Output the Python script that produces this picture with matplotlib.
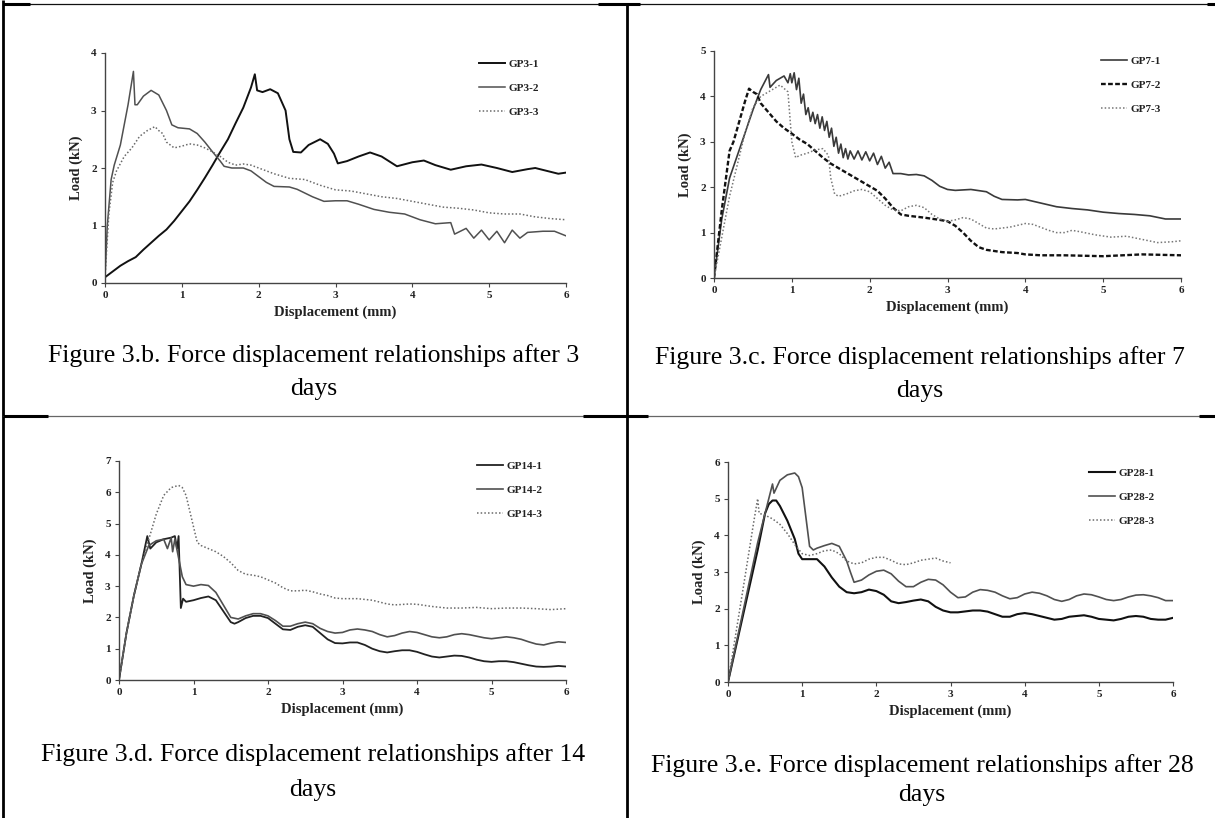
import matplotlib.pyplot as plt
from matplotlib.lines import Line2D

W, H = 1215, 818
SERIF = ['Liberation Serif', 'DejaVu Serif']

# ---- GP3 (3 days) ----
gp3_1_x = [0, 0.1, 0.2, 0.3, 0.4, 0.5, 0.6, 0.7, 0.8, 0.9, 1.0, 1.1, 1.2, 1.3, 1.4, 1.5, 1.6,
           1.7, 1.8, 1.9, 1.95, 1.98, 2.05, 2.15, 2.25, 2.35, 2.4, 2.45, 2.55, 2.65, 2.8, 2.9,
           2.98, 3.03, 3.15, 3.3, 3.45, 3.6, 3.8, 4.0, 4.15, 4.3, 4.5, 4.7, 4.9, 5.1, 5.3, 5.5,
           5.6, 5.75, 5.9, 6.0]
gp3_1_y = [0.1, 0.2, 0.3, 0.38, 0.45, 0.58, 0.7, 0.82, 0.93, 1.08, 1.25, 1.42, 1.62, 1.83, 2.05,
           2.28, 2.5, 2.78, 3.05, 3.4, 3.63, 3.35, 3.32, 3.37, 3.3, 3.0, 2.5, 2.28, 2.27, 2.4, 2.5,
           2.42, 2.25, 2.08, 2.12, 2.2, 2.27, 2.2, 2.03, 2.1, 2.13, 2.05, 1.97, 2.03, 2.06, 2.0,
           1.93, 1.98, 2.0, 1.95, 1.9, 1.92]
gp3_2_x = [0, 0.03, 0.08, 0.12, 0.2, 0.3, 0.37, 0.39, 0.42, 0.5, 0.6, 0.7, 0.8, 0.87, 0.95, 1.1,
           1.2, 1.3, 1.4, 1.5, 1.55, 1.65, 1.8, 1.9, 2.0, 2.1, 2.2, 2.4, 2.5, 2.7, 2.85, 3.0, 3.15,
           3.3, 3.5, 3.7, 3.9, 4.1, 4.3, 4.5, 4.55, 4.7, 4.8, 4.9, 5.0, 5.1, 5.2, 5.3, 5.4, 5.5,
           5.7, 5.85, 6.0]
gp3_2_y = [0.1, 1.0, 1.8, 2.05, 2.4, 3.1, 3.68, 3.1, 3.1, 3.25, 3.35, 3.27, 3.0, 2.75, 2.7, 2.68,
           2.6, 2.45, 2.28, 2.12, 2.03, 2.0, 2.0, 1.95, 1.85, 1.75, 1.68, 1.67, 1.63, 1.5, 1.42,
           1.43, 1.43, 1.37, 1.28, 1.23, 1.2, 1.1, 1.03, 1.05, 0.85, 0.95, 0.78, 0.92, 0.75, 0.9,
           0.7, 0.92, 0.78, 0.88, 0.9, 0.9, 0.82]
gp3_3_x = [0, 0.05, 0.1, 0.15, 0.25, 0.35, 0.45, 0.55, 0.65, 0.7, 0.75, 0.8, 0.9, 1.0, 1.1, 1.2,
           1.3, 1.4, 1.5, 1.6, 1.7, 1.8, 1.9, 2.0, 2.2, 2.4, 2.6, 2.8, 3.0, 3.2, 3.4, 3.6, 3.8,
           4.0, 4.2, 4.4, 4.6, 4.8, 5.0, 5.2, 5.4, 5.6, 5.8, 6.0]
gp3_3_y = [0.1, 1.2, 1.75, 1.95, 2.2, 2.35, 2.55, 2.65, 2.72, 2.65, 2.6, 2.45, 2.35, 2.38, 2.42,
           2.4, 2.35, 2.28, 2.2, 2.1, 2.05, 2.07, 2.05, 2.0, 1.9, 1.82, 1.8, 1.7, 1.62, 1.6, 1.55,
           1.5, 1.47, 1.42, 1.37, 1.32, 1.3, 1.27, 1.22, 1.2, 1.2, 1.15, 1.12, 1.1]

# ---- GP7 (7 days) ----
gp7_1_x = [0, 0.1, 0.2, 0.3, 0.4, 0.5, 0.6, 0.7, 0.72, 0.8, 0.9, 0.95, 0.98, 1.0, 1.03, 1.06,
           1.09, 1.12, 1.15, 1.18, 1.21, 1.24, 1.27, 1.3, 1.33, 1.36, 1.39, 1.42, 1.45, 1.48,
           1.51, 1.54, 1.57, 1.6, 1.63, 1.66, 1.69, 1.72, 1.75, 1.8, 1.85, 1.9, 1.95, 2.0, 2.05,
           2.1, 2.15, 2.2, 2.25, 2.3, 2.4, 2.5, 2.6, 2.7, 2.8, 2.9, 3.0, 3.1, 3.3, 3.5, 3.6,
           3.7, 3.9, 4.0, 4.2, 4.4, 4.6, 4.8, 5.0, 5.2, 5.4, 5.6, 5.8, 6.0]
gp7_1_y = [0, 1.3, 2.2, 2.7, 3.2, 3.7, 4.15, 4.48, 4.2, 4.35, 4.45, 4.3, 4.5, 4.3, 4.52, 4.15,
           4.4, 3.85, 4.05, 3.6, 3.75, 3.45, 3.65, 3.4, 3.6, 3.3, 3.55, 3.25, 3.45, 3.1, 3.3,
           2.9, 3.1, 2.75, 2.95, 2.65, 2.85, 2.62, 2.8, 2.62, 2.8, 2.6, 2.78, 2.58, 2.75, 2.5,
           2.68, 2.42, 2.55, 2.3, 2.3, 2.27, 2.28, 2.25, 2.15, 2.02, 1.95, 1.93, 1.95, 1.9, 1.8,
           1.73, 1.72, 1.73, 1.65, 1.57, 1.53, 1.5, 1.45, 1.42, 1.4, 1.37, 1.3, 1.3]
gp7_2_x = [0, 0.1, 0.2, 0.25, 0.3, 0.4, 0.45, 0.5, 0.55, 0.6, 0.7, 0.8, 0.9, 1.0, 1.1, 1.2, 1.3,
           1.4, 1.5, 1.6, 1.7, 1.8, 1.9, 2.0, 2.1, 2.2, 2.3, 2.4, 2.5, 2.7, 2.9, 3.0, 3.1, 3.2,
           3.3, 3.4, 3.5, 3.7, 3.9, 4.0, 4.2, 4.5, 5.0, 5.5, 6.0]
gp7_2_y = [0, 1.5, 2.8, 3.0, 3.3, 3.9, 4.17, 4.1, 4.05, 3.85, 3.65, 3.45, 3.3, 3.18, 3.05, 2.95,
           2.8, 2.65, 2.52, 2.42, 2.32, 2.22, 2.12, 2.02, 1.92, 1.75, 1.55, 1.4, 1.37, 1.33, 1.28,
           1.25, 1.15, 1.0, 0.82, 0.68, 0.62, 0.57, 0.55, 0.52, 0.5, 0.5, 0.48, 0.52, 0.5]
gp7_3_x = [0, 0.1, 0.2, 0.3, 0.4, 0.5, 0.6, 0.65, 0.7, 0.8, 0.85, 0.95, 1.0, 1.05, 1.1, 1.2, 1.3,
           1.4, 1.47, 1.5, 1.55, 1.6, 1.7, 1.8, 1.9, 2.0, 2.1, 2.2, 2.3, 2.4, 2.5, 2.6, 2.7, 2.8,
           2.9, 3.0, 3.1, 3.2, 3.3, 3.4, 3.5, 3.6, 3.8, 4.0, 4.1, 4.3, 4.4, 4.5, 4.6, 4.7, 4.9,
           5.1, 5.3, 5.5, 5.7, 5.9, 6.0]
gp7_3_y = [0, 0.9, 1.8, 2.5, 3.2, 3.75, 4.0, 4.05, 4.1, 4.2, 4.25, 4.1, 3.0, 2.65, 2.7, 2.75,
           2.82, 2.85, 2.7, 2.2, 1.85, 1.8, 1.85, 1.92, 1.95, 1.9, 1.75, 1.6, 1.5, 1.48, 1.57,
           1.6, 1.55, 1.4, 1.3, 1.25, 1.28, 1.33, 1.3, 1.2, 1.1, 1.08, 1.12, 1.2, 1.18, 1.05,
           1.0, 1.0, 1.05, 1.02, 0.95, 0.9, 0.92, 0.85, 0.78, 0.8, 0.82]

# ---- GP14 (14 days) ----
gp14_1_x = [0, 0.1, 0.2, 0.3, 0.38, 0.42, 0.5, 0.6, 0.7, 0.75, 0.78, 0.8, 0.83, 0.86, 0.9, 1.0,
            1.1, 1.2, 1.3, 1.4, 1.5, 1.55, 1.6, 1.7, 1.8, 1.9, 2.0, 2.1, 2.2, 2.3, 2.4, 2.5,
            2.6, 2.7, 2.8, 2.9, 3.0, 3.1, 3.2, 3.3, 3.4, 3.5, 3.6, 3.7, 3.8, 3.9, 4.0, 4.1,
            4.2, 4.3, 4.4, 4.5, 4.6, 4.7, 4.8, 4.9, 5.0, 5.1, 5.2, 5.3, 5.4, 5.5, 5.6, 5.7,
            5.8, 5.9, 6.0]
gp14_1_y = [0, 1.5, 2.7, 3.7, 4.6, 4.2, 4.4, 4.5, 4.55, 4.6, 4.2, 4.6, 2.3, 2.6, 2.5, 2.55, 2.62,
            2.67, 2.55, 2.2, 1.85, 1.8, 1.85, 1.98, 2.05, 2.05, 1.98, 1.8, 1.62, 1.6, 1.7, 1.75,
            1.7, 1.5, 1.3, 1.18, 1.17, 1.2, 1.2, 1.12, 1.0, 0.92, 0.88, 0.92, 0.95, 0.95, 0.9,
            0.82, 0.75, 0.72, 0.75, 0.78, 0.77, 0.72, 0.65, 0.6, 0.58, 0.6, 0.6, 0.57, 0.52,
            0.47, 0.43, 0.42, 0.43, 0.45, 0.43]
gp14_2_x = [0, 0.1, 0.2, 0.3, 0.4, 0.5, 0.6, 0.65, 0.7, 0.72, 0.75, 0.8, 0.85, 0.9, 1.0, 1.1,
            1.2, 1.3, 1.4, 1.5, 1.6, 1.7, 1.8, 1.9, 2.0, 2.1, 2.2, 2.3, 2.4, 2.5, 2.6, 2.7, 2.8,
            2.9, 3.0, 3.1, 3.2, 3.3, 3.4, 3.5, 3.6, 3.7, 3.8, 3.9, 4.0, 4.1, 4.2, 4.3, 4.4, 4.5,
            4.6, 4.7, 4.8, 4.9, 5.0, 5.1, 5.2, 5.3, 5.4, 5.5, 5.6, 5.7, 5.8, 5.9, 6.0]
gp14_2_y = [0, 1.5, 2.7, 3.7, 4.3, 4.45, 4.5, 4.2, 4.55, 4.1, 4.5, 3.9, 3.3, 3.05, 3.0, 3.05,
            3.02, 2.8, 2.4, 2.0, 1.95, 2.05, 2.12, 2.12, 2.05, 1.9, 1.72, 1.72, 1.8, 1.85, 1.8,
            1.65, 1.55, 1.5, 1.52, 1.6, 1.63, 1.6, 1.55, 1.45, 1.38, 1.42, 1.5, 1.55, 1.52,
            1.45, 1.38, 1.35, 1.38, 1.45, 1.48, 1.45, 1.4, 1.35, 1.32, 1.35, 1.38, 1.35, 1.3,
            1.22, 1.15, 1.12, 1.18, 1.22, 1.2]
gp14_3_x = [0, 0.1, 0.2, 0.3, 0.4, 0.5, 0.6, 0.7, 0.8, 0.85, 0.9, 0.95, 1.0, 1.05, 1.1, 1.2, 1.3,
            1.4, 1.5, 1.6, 1.7, 1.8, 1.9, 2.0, 2.1, 2.2, 2.3, 2.4, 2.5, 2.6, 2.7, 2.8, 2.9, 3.0,
            3.2, 3.4, 3.6, 3.7, 3.9, 4.0, 4.2, 4.4, 4.6, 4.8, 5.0, 5.2, 5.4, 5.6, 5.8, 6.0]
gp14_3_y = [0, 1.5, 2.7, 3.7, 4.5, 5.3, 5.9, 6.15, 6.22, 6.15, 5.9, 5.4, 4.9, 4.4, 4.3, 4.2, 4.1,
            3.95, 3.75, 3.5, 3.38, 3.35, 3.3, 3.2, 3.1, 2.95, 2.85, 2.85, 2.87, 2.82, 2.75, 2.7,
            2.62, 2.6, 2.6, 2.55, 2.43, 2.4, 2.43, 2.42, 2.35, 2.3, 2.3, 2.32, 2.28, 2.3, 2.3,
            2.28, 2.25, 2.28]

# ---- GP28 (28 days) ----
gp28_1_x = [0, 0.2, 0.4, 0.5, 0.55, 0.6, 0.65, 0.7, 0.8, 0.9, 0.95, 1.0, 1.1, 1.2, 1.3, 1.4, 1.5,
            1.6, 1.7, 1.8, 1.9, 2.0, 2.1, 2.2, 2.3, 2.4, 2.5, 2.6, 2.7, 2.8, 2.9, 3.0, 3.1, 3.3,
            3.4, 3.5, 3.6, 3.7, 3.8, 3.9, 4.0, 4.1, 4.2, 4.3, 4.4, 4.5, 4.6, 4.7, 4.8, 4.9, 5.0,
            5.1, 5.2, 5.3, 5.4, 5.5, 5.6, 5.7, 5.8, 5.9, 6.0]
gp28_1_y = [0, 1.8, 3.6, 4.6, 4.85, 4.95, 4.95, 4.8, 4.4, 3.9, 3.5, 3.35, 3.35, 3.35, 3.15, 2.85,
            2.6, 2.45, 2.42, 2.45, 2.52, 2.48, 2.38, 2.2, 2.15, 2.18, 2.22, 2.25, 2.2, 2.05, 1.95,
            1.9, 1.9, 1.95, 1.95, 1.92, 1.85, 1.78, 1.78, 1.85, 1.88, 1.85, 1.8, 1.75, 1.7, 1.72,
            1.78, 1.8, 1.82, 1.78, 1.72, 1.7, 1.68, 1.72, 1.78, 1.8, 1.78, 1.72, 1.7, 1.7, 1.75]
gp28_2_x = [0, 0.2, 0.4, 0.55, 0.6, 0.62, 0.7, 0.8, 0.9, 0.95, 1.0, 1.05, 1.1, 1.15, 1.2, 1.3,
            1.4, 1.5, 1.6, 1.65, 1.7, 1.8, 1.9, 2.0, 2.1, 2.2, 2.3, 2.4, 2.5, 2.6, 2.7, 2.8, 2.9,
            3.0, 3.1, 3.2, 3.3, 3.4, 3.5, 3.6, 3.7, 3.8, 3.9, 4.0, 4.1, 4.2, 4.3, 4.4, 4.5, 4.6,
            4.7, 4.8, 4.9, 5.0, 5.1, 5.2, 5.3, 5.4, 5.5, 5.6, 5.7, 5.8, 5.9, 6.0]
gp28_2_y = [0, 1.9, 3.8, 5.0, 5.4, 5.15, 5.5, 5.65, 5.7, 5.6, 5.3, 4.5, 3.7, 3.6, 3.65, 3.72,
            3.78, 3.7, 3.3, 3.0, 2.72, 2.78, 2.92, 3.02, 3.05, 2.95, 2.75, 2.6, 2.6, 2.72, 2.8,
            2.78, 2.65, 2.45, 2.3, 2.32, 2.45, 2.52, 2.5, 2.45, 2.35, 2.27, 2.3, 2.4, 2.45, 2.42,
            2.35, 2.25, 2.2, 2.25, 2.35, 2.4, 2.38, 2.32, 2.25, 2.22, 2.25, 2.32, 2.37, 2.38,
            2.35, 2.3, 2.22, 2.22]
gp28_3_x = [0, 0.2, 0.35, 0.4, 0.42, 0.5, 0.6, 0.7, 0.8, 0.9, 1.0, 1.1, 1.2, 1.3, 1.4, 1.5, 1.6,
            1.7, 1.8, 1.9, 2.0, 2.1, 2.2, 2.3, 2.4, 2.5, 2.6, 2.7, 2.8, 2.9, 3.0]
gp28_3_y = [0, 2.5, 4.4, 5.0, 4.6, 4.55, 4.45, 4.3, 4.05, 3.75, 3.5, 3.45, 3.5, 3.58, 3.6, 3.5,
            3.3, 3.22, 3.25, 3.35, 3.4, 3.4, 3.32, 3.22, 3.2, 3.25, 3.32, 3.35, 3.38, 3.3, 3.25]

DOT = (0, (1, 1.4))

panels = [
    dict(box=(105, 53, 566, 283), ymax=4, legend=(479, 59),
         caption=('Figure 3.b. Force displacement relationships after 3', 'days'), cap=(314, 356, 389),
         series=[('GP3-1', gp3_1_x, gp3_1_y, '#111111', 1.4, '-'),
                 ('GP3-2', gp3_2_x, gp3_2_y, '#505050', 1.1, '-'),
                 ('GP3-3', gp3_3_x, gp3_3_y, '#6a6a6a', 1.1, DOT)]),
    dict(box=(714, 51, 1181, 278), ymax=5, legend=(1101, 56),
         caption=('Figure 3.c. Force displacement relationships after 7', 'days'), cap=(920, 358, 391),
         series=[('GP7-1', gp7_1_x, gp7_1_y, '#3a3a3a', 1.2, '-'),
                 ('GP7-2', gp7_2_x, gp7_2_y, '#111111', 1.7, (0, (2, 1))),
                 ('GP7-3', gp7_3_x, gp7_3_y, '#777777', 1.1, DOT)]),
    dict(box=(119, 461, 566, 680), ymax=7, legend=(477, 461),
         caption=('Figure 3.d. Force displacement relationships after 14', 'days'), cap=(313, 755, 790),
         series=[('GP14-1', gp14_1_x, gp14_1_y, '#222222', 1.3, '-'),
                 ('GP14-2', gp14_2_x, gp14_2_y, '#505050', 1.2, '-'),
                 ('GP14-3', gp14_3_x, gp14_3_y, '#6a6a6a', 1.1, DOT)]),
    dict(box=(728, 462, 1173, 682), ymax=6, legend=(1089, 468),
         caption=('Figure 3.e. Force displacement relationships after 28', 'days'), cap=(922, 766, 795),
         series=[('GP28-1', gp28_1_x, gp28_1_y, '#111111', 1.5, '-'),
                 ('GP28-2', gp28_2_x, gp28_2_y, '#505050', 1.2, '-'),
                 ('GP28-3', gp28_3_x, gp28_3_y, '#6a6a6a', 1.1, DOT)]),
]

plt.rcParams['font.family'] = SERIF
fig = plt.figure(figsize=(W / 100, H / 100), dpi=100)


def fx(px):
    return px / W


def fy(py):
    return 1 - py / H


for p in panels:
    l, t, r, b = p['box']
    ax = fig.add_axes([fx(l), fy(b), fx(r) - fx(l), fy(t) - fy(b)])
    for name, xs, ys, c, lw, ls in p['series']:
        ax.plot(xs, ys, color=c, lw=lw, ls=ls, label=name)
    ax.set_xlim(0, 6)
    ax.set_ylim(0, p['ymax'])
    ax.set_xticks(range(7))
    ax.set_yticks(range(p['ymax'] + 1))
    for s in ['top', 'right']:
        ax.spines[s].set_visible(False)
    for s in ['left', 'bottom']:
        ax.spines[s].set_color('#444444')
        ax.spines[s].set_linewidth(1.0)
    ax.tick_params(direction='out', length=3, width=0.8, color='#444444', labelsize=8,
                   labelcolor='#222222', pad=3)
    for lab in ax.get_xticklabels() + ax.get_yticklabels():
        lab.set_fontweight('bold')
    ax.set_xlabel('Displacement (mm)', fontsize=10.5, fontweight='bold', color='#222222', labelpad=4)
    ax.set_ylabel('Load (kN)', fontsize=10.5, fontweight='bold', color='#222222', labelpad=6)
    lx, ly = p['legend']
    leg = ax.legend(loc='upper left', bbox_to_anchor=(fx(lx), fy(ly)), bbox_transform=fig.transFigure,
                    frameon=False, borderpad=0, borderaxespad=0, handlelength=2.3,
                    handletextpad=0.35, labelspacing=1.3, prop={'size': 8, 'weight': 'bold'})
    for txt in leg.get_texts():
        txt.set_color('#222222')
    cx, y1, y2 = p['cap']
    fig.text(fx(cx), fy(y1), p['caption'][0], ha='center', va='center', fontsize=18.5)
    fig.text(fx(cx), fy(y2), p['caption'][1], ha='center', va='center', fontsize=18.5)

# table rules
def rule(x0, y0, x1, y1, lw, c='black'):
    fig.add_artist(Line2D([fx(x0), fx(x1)], [fy(y0), fy(y1)], transform=fig.transFigure,
                          color=c, lw=lw, solid_capstyle='butt'))

rule(3, 0, 3, H, 2.0)
rule(627, 4, 627, H, 2.0)
rule(3, 4, W, 4, 0.9, '#111111')
for a, b in [(3, 30), (598, 640), (1207, W)]:
    rule(a, 4, b, 4, 2.2)
rule(3, 416, W, 416, 0.9, '#666666')
for a, b in [(3, 48), (583, 648), (1199, W)]:
    rule(a, 416, b, 416, 2.2)

fig.savefig('out.png', dpi=100)
